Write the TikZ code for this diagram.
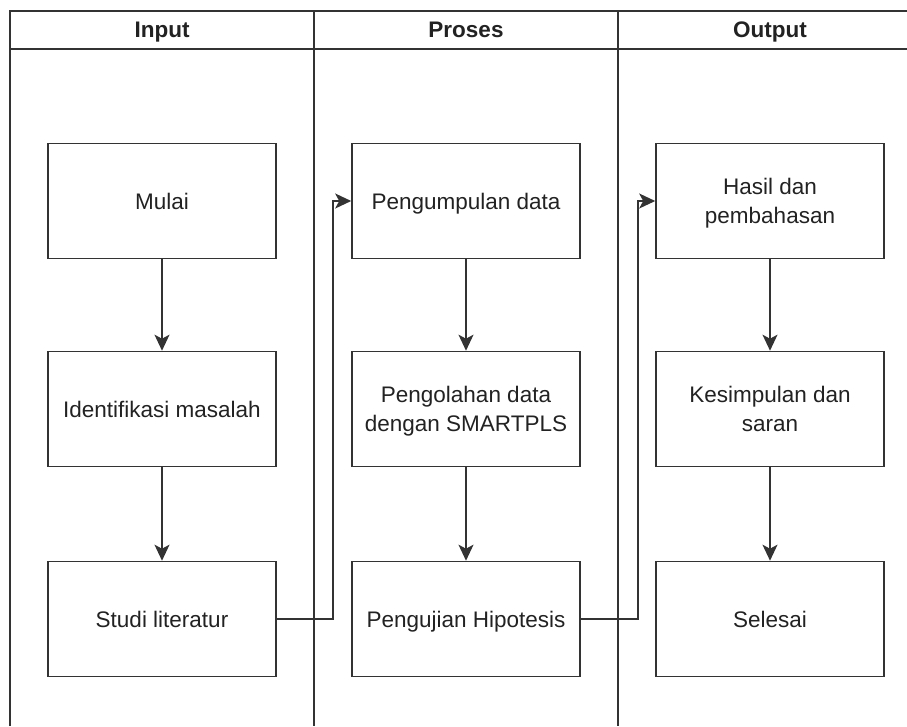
\documentclass[tikz,border=0pt]{standalone}
\usepackage{fontspec}
\setmainfont{Liberation Sans}
\usetikzlibrary{arrows.meta}
\definecolor{ln}{HTML}{333333}
\definecolor{tx}{HTML}{222222}
\tikzset{
  box/.style={draw=ln, line width=1.6pt, minimum width=228pt, minimum height=115pt,
    align=center, text=tx, font=\fontsize{22.5}{29}\selectfont, inner sep=0pt,
    text height=20pt, text depth=4pt},
  box2/.style={box, text height=49pt},
  hdr/.style={text=tx, font=\fontsize{22.5}{27}\selectfont\bfseries, inner sep=0pt,
    text height=20pt, text depth=4pt},
  lane/.style={draw=ln, line width=1.6pt},
  arr/.style={draw=ln, line width=1.6pt, -{Stealth[length=16pt,width=15pt,inset=4pt]}},
}
\begin{document}
\begin{tikzpicture}[x=1pt,y=-1pt]
\useasboundingbox (0,0) rectangle (907,726);
% swimlanes
\draw[lane] (10,726) -- (10,11) -- (910,11);
\draw[lane] (10,49) -- (910,49);
\draw[lane] (314,11) -- (314,726);
\draw[lane] (618,11) -- (618,726);
\node[hdr] (hin) at (162,29) {Input};
\node[hdr] (hpro) at (466,29) {Proses};
\node[hdr] (hout) at (770,29) {Output};
% boxes
\node[box] (mulai) at (162,201) {Mulai};
\node[box] (ident) at (162,409) {Identifikasi masalah};
\node[box] (studi) at (162,619) {Studi literatur};
\node[box] (kumpul) at (466,201) {Pengumpulan data};
\node[box2] (olah) at (466,409) {Pengolahan data\\dengan SMARTPLS};
\node[box] (uji) at (466,619) {Pengujian Hipotesis};
\node[box2] (hasil) at (770,201) {Hasil dan\\pembahasan};
\node[box2] (simpul) at (770,409) {Kesimpulan dan\\saran};
\node[box] (selesai) at (770,619) {Selesai};
% connectors
\draw[arr] (mulai) -- (ident);
\draw[arr] (ident) -- (studi);
\draw[arr] (kumpul) -- (olah);
\draw[arr] (olah) -- (uji);
\draw[arr] (hasil) -- (simpul);
\draw[arr] (simpul) -- (selesai);
\draw[arr] (studi.east) -- ([xshift=56pt]studi.east) |- (kumpul.west);
\draw[arr] (uji.east) -- ([xshift=57pt]uji.east) |- (hasil.west);
\end{tikzpicture}
\end{document}
